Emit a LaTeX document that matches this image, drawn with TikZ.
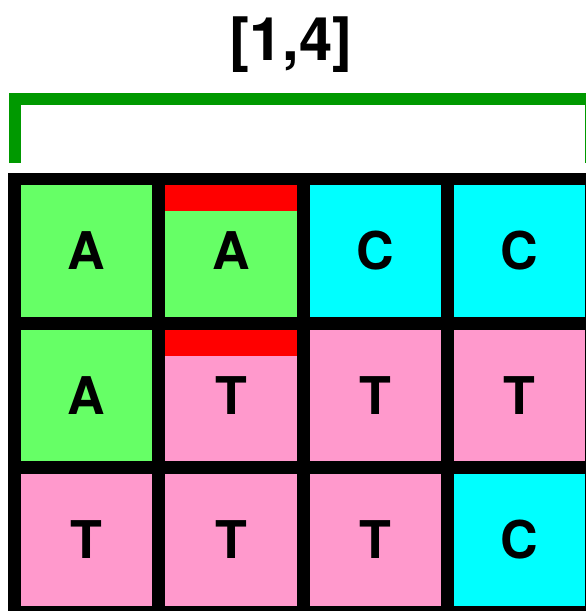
\documentclass[tikz,border=0pt]{standalone}
\usepackage{fontspec}
\setmainfont{TeX Gyre Heros}
\usepackage{xcolor}
\usepackage{tikz}
\usetikzlibrary{positioning,fit,backgrounds}
\definecolor{baseA}{HTML}{66FF66}
\definecolor{baseC}{HTML}{00FFFF}
\definecolor{baseT}{HTML}{FF99CC}
\definecolor{markred}{HTML}{FF0000}
\definecolor{spangreen}{HTML}{009900}
\tikzset{
  cellnode/.style={inner sep=0pt,minimum size=131.5pt,font=\fontsize{52}{52}\selectfont\bfseries,text=black},
  acell/.style={cellnode,fill=baseA},
  ccell/.style={cellnode,fill=baseC},
  tcell/.style={cellnode,fill=baseT},
  redbar/.style={fill=markred,inner sep=0pt,minimum width=131.5pt,minimum height=26pt,anchor=north},
  spanline/.style={draw=spangreen,line width=12pt,line join=miter},
}

\begin{document}
\begin{tikzpicture}[x=1pt,y=-1pt,node distance=12.5pt]
        \useasboundingbox (0,0) rectangle (586,611);
        % row 1
        \node[acell] (c11) at (86.5,251) {A};
        \node[acell,right=of c11] (c12) {A};
        \node[ccell,right=of c12] (c13) {C};
        \node[ccell,right=of c13] (c14) {C};
        % row 2
        \node[acell,below=of c11] (c21) {A};
        \node[tcell,right=of c21] (c22) {T};
        \node[tcell,right=of c22] (c23) {T};
        \node[tcell,right=of c23] (c24) {T};
        % row 3
        \node[tcell,below=of c21] (c31) {T};
        \node[tcell,right=of c31] (c32) {T};
        \node[tcell,right=of c32] (c33) {T};
        \node[ccell,right=of c33] (c34) {C};
        \node[redbar] (r12) at (c12.north) {};
        \node[redbar] (r22) at (c22.north) {};
        \begin{scope}[on background layer]
          \node[fit=(c11)(c34),fill=black,inner sep=12.5pt] (grid) {};
        \end{scope}
        % span bracket
        \coordinate (bl) at (14.5,163);
        \coordinate (tl) at (14.5,99);
        \coordinate (tr) at (591,99);
        \coordinate (br) at (591,163);
        \draw[spanline] (bl) -- (tl) -- (tr) -- (br);
        \node[font=\fontsize{60}{60}\selectfont\bfseries,anchor=base,inner sep=0pt] (span) at (291,60) {[1,4]};
      \end{tikzpicture}
\end{document}
